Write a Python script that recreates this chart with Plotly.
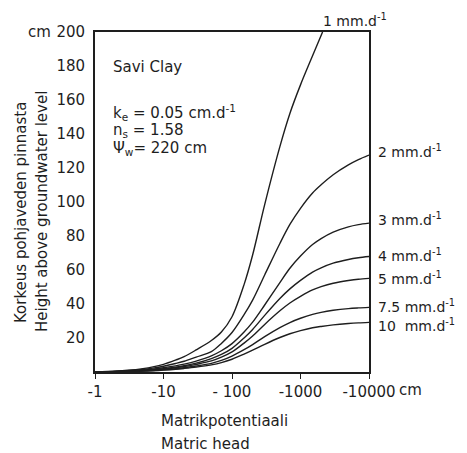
import plotly.graph_objects as go

# Matric head (cm, negative) and heights above groundwater level (cm)
head_1mm = [-1, -2, -3, -5, -7, -10, -15, -20, -30, -50, -70, -100, -150, -200, -300, -500, -700,
            -1000, -1500, -2100]
height_1mm = [0, 0.5, 1, 2, 3, 4.5, 7, 9, 13, 18.5, 23.5, 32.5, 51.4, 68.8, 98.5, 132.6, 152.1,
              168.9, 186, 200]

head = [-1, -2, -3, -5, -7, -10, -15, -20, -30, -50, -70, -100, -150, -200, -300, -500, -700,
        -1000, -1500, -2000, -3000, -5000, -7000, -10000]
height_2mm = [0, 0.4, 0.8, 1.5, 2.3, 3.4, 5, 6.3, 8.8, 12, 16.8, 23.2, 33.7, 42.3, 57.1, 75.6, 86.8,
              96.3, 105.3, 110.1, 116, 121.8, 124.9, 127.6]
height_3mm = [0, 0.3, 0.6, 1.1, 1.7, 2.5, 3.6, 4.6, 6.4, 9.5, 12.5, 16.7, 23.5, 29.3, 39.4, 52.6, 61,
              68.2, 75, 78.5, 82.3, 85.4, 86.7, 87.6]
height_4mm = [0, 0.25, 0.5, 0.9, 1.4, 2, 2.9, 3.7, 5.2, 7.9, 10.3, 13.9, 20, 25, 33.3, 43.2, 48.9,
              53.9, 58.8, 61.3, 64, 66.2, 67.2, 67.9]
height_5mm = [0, 0.2, 0.4, 0.8, 1.2, 1.7, 2.5, 3.2, 4.5, 6.5, 8.7, 11.8, 17, 21.2, 28, 36, 40.6,
              44.5, 48.3, 50.2, 52.2, 53.8, 54.6, 55.1]
height_75mm = [0, 0.15, 0.3, 0.6, 0.9, 1.3, 1.9, 2.5, 3.5, 5.1, 6.8, 9.35, 13.1, 16.1, 20.8, 26.1, 29.1,
               31.6, 33.9, 35.1, 36.3, 37.3, 37.7, 38]
height_10mm = [0, 0.1, 0.25, 0.5, 0.75, 1.1, 1.6, 2.1, 2.9, 4.2, 5.5, 7.5, 10.5, 12.8, 16.3, 20.3, 22.5,
               24.3, 26, 26.8, 27.7, 28.5, 28.9, 29.2]

curve_labels = ["1 mm.d<sup>-1</sup>", "2 mm.d<sup>-1</sup>", "3 mm.d<sup>-1</sup>", "4 mm.d<sup>-1</sup>",
                "5 mm.d<sup>-1</sup>", "7.5 mm.d<sup>-1</sup>", "10  mm.d<sup>-1</sup>"]

x_tickvals = [-1, -10, -100, -1000, -10000]
x_ticktext = ["-1", "-10", "- 100", "-1000", "-10000"]
y_tickvals = [20, 40, 60, 80, 100, 120, 140, 160, 180, 200]

FONT = "DejaVu Sans"
INK = "#1e1e1e"

fig = go.Figure()
series = [(head_1mm, height_1mm)] + [(head, h) for h in
          [height_2mm, height_3mm, height_4mm, height_5mm, height_75mm, height_10mm]]
for (hx, hy), name in zip(series, curve_labels):
    fig.add_trace(go.Scatter(x=[-v for v in hx], y=hy, mode="lines", name=name,
                             line=dict(color=INK, width=1.4, shape="spline", smoothing=0.9),
                             showlegend=False, hoverinfo="skip", cliponaxis=True))

W, H = 467, 453
L, R, T, B = 95, 369, 32, 372
pw, ph = R - L, B - T

def px(x):
    return (x - L) / pw

def py(y):
    return (B - y) / ph

ann = []
def add(text, x, y, xa="left", ya="middle", size=15, angle=0):
    ann.append(dict(text=text, x=px(x), y=py(y), xref="paper", yref="paper",
                    xanchor=xa, yanchor=ya, showarrow=False, textangle=angle,
                    font=dict(family=FONT, size=size, color=INK)))

# curve labels
label_pos = [(321, 20), (376, 151), (376, 219), (376, 255), (376, 278), (376, 306), (376, 325)]
for lab, (x, y) in zip(curve_labels, label_pos):
    add(lab, x, y, size=14)

# soil annotation
add("Savi Clay", 111, 67)
add("k<sub>e</sub> = 0.05 cm.d<sup>-1</sup>", 111, 112)
add("n<sub>s</sub> = 1.58", 111, 130)
add("Ψ<sub>w</sub>= 220 cm", 111, 148)

# unit labels
add("cm", 53, 32, xa="right")
add("cm", 397, 390)

# axis titles
add("Korkeus pohjaveden pinnasta", 21, 213, xa="center", angle=-90)
add("Height above groundwater level", 42, 212, xa="center", angle=-90)
add("Matrikpotentiaali", 159, 421)
add("Matric head", 159, 444)

fig.update_layout(
    width=W, height=H,
    margin=dict(l=L, r=W - R, t=T, b=H - B, pad=0),
    paper_bgcolor="white", plot_bgcolor="white",
    font=dict(family=FONT, size=15, color=INK),
    annotations=ann,
    xaxis=dict(type="log", range=[0, 4], tickvals=[-v for v in x_tickvals], ticktext=x_ticktext,
               ticks="outside", ticklen=5, tickwidth=1.3, tickcolor=INK,
               showline=True, linecolor=INK, linewidth=1.8, mirror=True,
               showgrid=False, zeroline=False, tickfont=dict(size=15)),
    yaxis=dict(range=[0, 200], tickvals=y_tickvals, ticks="", ticklabelstandoff=5,
               showline=True, linecolor=INK, linewidth=1.8, mirror=True,
               showgrid=False, zeroline=False, tickfont=dict(size=15)),
)

fig.write_html("out.html")
